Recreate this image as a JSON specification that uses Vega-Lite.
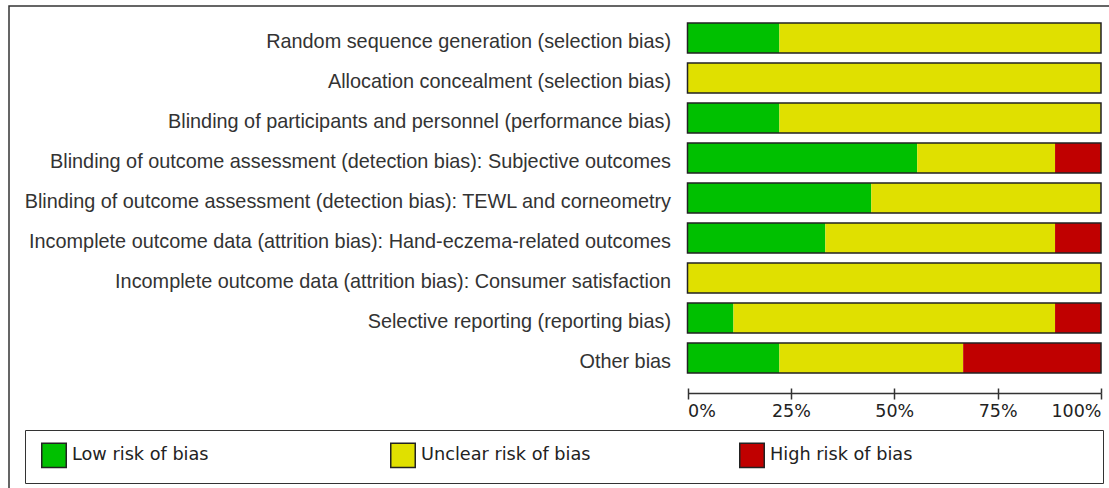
{
  "$schema": "https://vega.github.io/schema/vega-lite/v6.json",
  "width": 1110,
  "height": 500,
  "autosize": {"type": "none"},
  "padding": {"left": 9, "top": 6, "right": 0, "bottom": 0},
  "background": "white",
  "config": {"view": {"stroke": "#333333", "strokeWidth": 1.5}},
  "data": {"values": [
    {"domain": "Random sequence generation (selection bias)", "judgement": "Low risk of bias", "studies": 2},
    {"domain": "Random sequence generation (selection bias)", "judgement": "Unclear risk of bias", "studies": 7},
    {"domain": "Random sequence generation (selection bias)", "judgement": "High risk of bias", "studies": 0},
    {"domain": "Allocation concealment (selection bias)", "judgement": "Low risk of bias", "studies": 0},
    {"domain": "Allocation concealment (selection bias)", "judgement": "Unclear risk of bias", "studies": 9},
    {"domain": "Allocation concealment (selection bias)", "judgement": "High risk of bias", "studies": 0},
    {"domain": "Blinding of participants and personnel (performance bias)", "judgement": "Low risk of bias", "studies": 2},
    {"domain": "Blinding of participants and personnel (performance bias)", "judgement": "Unclear risk of bias", "studies": 7},
    {"domain": "Blinding of participants and personnel (performance bias)", "judgement": "High risk of bias", "studies": 0},
    {"domain": "Blinding of outcome assessment (detection bias): Subjective outcomes", "judgement": "Low risk of bias", "studies": 5},
    {"domain": "Blinding of outcome assessment (detection bias): Subjective outcomes", "judgement": "Unclear risk of bias", "studies": 3},
    {"domain": "Blinding of outcome assessment (detection bias): Subjective outcomes", "judgement": "High risk of bias", "studies": 1},
    {"domain": "Blinding of outcome assessment (detection bias): TEWL and corneometry", "judgement": "Low risk of bias", "studies": 4},
    {"domain": "Blinding of outcome assessment (detection bias): TEWL and corneometry", "judgement": "Unclear risk of bias", "studies": 5},
    {"domain": "Blinding of outcome assessment (detection bias): TEWL and corneometry", "judgement": "High risk of bias", "studies": 0},
    {"domain": "Incomplete outcome data (attrition bias): Hand-eczema-related outcomes", "judgement": "Low risk of bias", "studies": 3},
    {"domain": "Incomplete outcome data (attrition bias): Hand-eczema-related outcomes", "judgement": "Unclear risk of bias", "studies": 5},
    {"domain": "Incomplete outcome data (attrition bias): Hand-eczema-related outcomes", "judgement": "High risk of bias", "studies": 1},
    {"domain": "Incomplete outcome data (attrition bias): Consumer satisfaction", "judgement": "Low risk of bias", "studies": 0},
    {"domain": "Incomplete outcome data (attrition bias): Consumer satisfaction", "judgement": "Unclear risk of bias", "studies": 9},
    {"domain": "Incomplete outcome data (attrition bias): Consumer satisfaction", "judgement": "High risk of bias", "studies": 0},
    {"domain": "Selective reporting (reporting bias)", "judgement": "Low risk of bias", "studies": 1},
    {"domain": "Selective reporting (reporting bias)", "judgement": "Unclear risk of bias", "studies": 7},
    {"domain": "Selective reporting (reporting bias)", "judgement": "High risk of bias", "studies": 1},
    {"domain": "Other bias", "judgement": "Low risk of bias", "studies": 2},
    {"domain": "Other bias", "judgement": "Unclear risk of bias", "studies": 4},
    {"domain": "Other bias", "judgement": "High risk of bias", "studies": 3}
  ]},
  "resolve": {"axis": {"x": "independent"}},
  "layer": [
    {
      "transform": [
        {"calculate": "indexof(['Low risk of bias','Unclear risk of bias','High risk of bias'], datum.judgement)", "as": "rank"}
      ],
      "mark": {"type": "bar"},
      "encoding": {
        "y": {
          "field": "domain", "type": "nominal",
          "scale": {
            "domain": [
              "Random sequence generation (selection bias)",
              "Allocation concealment (selection bias)",
              "Blinding of participants and personnel (performance bias)",
              "Blinding of outcome assessment (detection bias): Subjective outcomes",
              "Blinding of outcome assessment (detection bias): TEWL and corneometry",
              "Incomplete outcome data (attrition bias): Hand-eczema-related outcomes",
              "Incomplete outcome data (attrition bias): Consumer satisfaction",
              "Selective reporting (reporting bias)",
              "Other bias"
            ],
            "range": [12, 372],
            "paddingInner": 0.25,
            "paddingOuter": 0.125
          },
          "axis": {
            "orient": "left", "offset": -678.5, "title": null,
            "domain": false, "ticks": false, "tickSize": 0, "grid": false,
            "labelPadding": 17, "labelFont": "Liberation Sans", "labelFontSize": 19.85,
            "labelColor": "#333333", "labelLimit": 900, "labelBaseline": "middle", "labelOffset": 4
          }
        },
        "x": {
          "field": "studies", "type": "quantitative", "stack": "normalize",
          "scale": {"domain": [0, 1], "range": [678.5, 1092], "nice": false},
          "axis": {
            "orient": "bottom", "offset": -113, "title": null, "grid": false,
            "values": [0, 0.25, 0.5, 0.75, 1], "format": ".0%", "labelFlush": true, "labelOverlap": false,
            "labelFont": "DejaVu Sans", "labelFontSize": 17.5, "labelColor": "#222222", "labelPadding": 3,
            "tickSize": 6, "tickColor": "#333333", "tickWidth": 1.5,
            "domainColor": "#333333", "domainWidth": 1.5
          }
        },
        "color": {
          "field": "judgement", "type": "nominal",
          "scale": {
            "domain": ["Low risk of bias", "Unclear risk of bias", "High risk of bias"],
            "range": ["#00c000", "#e0e000", "#c00000"]
          },
          "legend": {
            "orient": "none", "legendX": 16, "legendY": 424,
            "direction": "horizontal", "columns": 3, "gridAlign": "all",
            "title": "\u00a0", "titleOrient": "right", "titlePadding": 179, "titleFontSize": 2,
            "symbolType": "square", "symbolSize": 600, "symbolStrokeColor": "#222222",
            "symbolStrokeWidth": 1.5, "symbolOpacity": 1, "symbolOffset": 4,
            "labelFont": "DejaVu Sans", "labelFontSize": 17.7, "labelColor": "#222222",
            "labelOffset": 5, "labelLimit": 1000,
            "strokeColor": "#333333", "padding": 12, "columnPadding": 144
          }
        },
        "order": {"field": "rank", "type": "quantitative"}
      }
    },
    {
      "transform": [
        {"aggregate": [{"op": "count", "as": "n"}], "groupby": ["domain"]}
      ],
      "mark": {"type": "bar", "fill": "transparent", "stroke": "#222222", "strokeWidth": 1.5},
      "encoding": {
        "y": {"field": "domain", "type": "nominal"},
        "x": {
          "datum": 0, "type": "quantitative",
          "axis": {
            "orient": "bottom", "offset": -113, "title": null, "grid": false,
            "values": [0, 0.25, 0.5, 0.75, 1], "labels": false, "domain": false,
            "tickSize": -5, "tickColor": "#333333", "tickWidth": 1.5
          }
        },
        "x2": {"datum": 1}
      }
    }
  ]
}
